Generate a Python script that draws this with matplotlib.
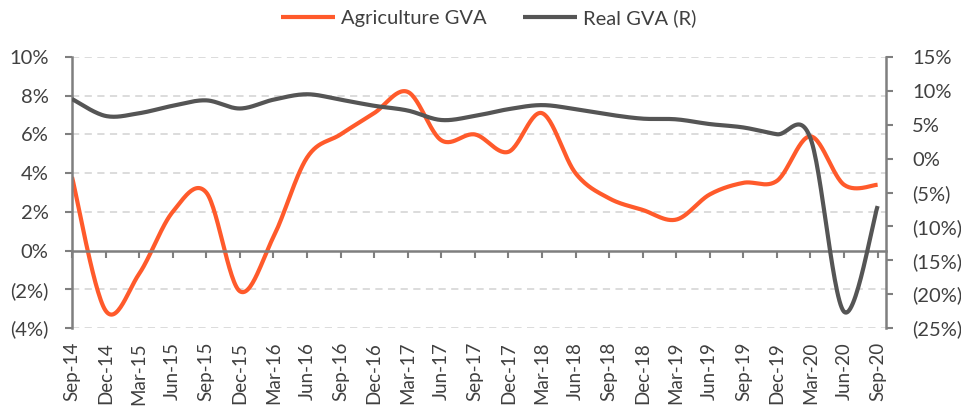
import numpy as np
import matplotlib
matplotlib.use("Agg")
import matplotlib.pyplot as plt
from matplotlib.ticker import FuncFormatter

plt.rcParams['font.family'] = ['Lato', 'DejaVu Sans']

# quarterly data, Sep-14 .. Sep-20
quarters = ['Sep-14', 'Dec-14', 'Mar-15', 'Jun-15', 'Sep-15', 'Dec-15', 'Mar-16',
            'Jun-16', 'Sep-16', 'Dec-16', 'Mar-17', 'Jun-17', 'Sep-17', 'Dec-17',
            'Mar-18', 'Jun-18', 'Sep-18', 'Dec-18', 'Mar-19', 'Jun-19', 'Sep-19',
            'Dec-19', 'Mar-20', 'Jun-20', 'Sep-20']
agri_gva = [3.8, -3.1, -1.2, 2.0, 3.0, -2.1, 0.7, 4.8, 6.0, 7.1, 8.2, 5.7, 6.0,
            5.1, 7.1, 4.0, 2.7, 2.1, 1.6, 2.9, 3.5, 3.6, 5.9, 3.4, 3.4]
real_gva = [8.8, 6.3, 6.7, 7.8, 8.6, 7.4, 8.7, 9.5, 8.7, 7.8, 7.1, 5.7, 6.3,
            7.3, 7.9, 7.3, 6.5, 5.9, 5.8, 5.1, 4.6, 3.6, 3.0, -22.6, -7.0]

ORANGE = '#FF5A2B'
GREY = '#555555'
AXIS = '#7F7F7F'
TEXT = '#404040'


def smooth(xs, ys, n=30):
    # excel style smoothed line (catmull-rom through the points)
    xs = np.asarray(xs, float)
    ys = np.asarray(ys, float)
    px = np.concatenate([[xs[0]], xs, [xs[-1]]])
    py = np.concatenate([[ys[0]], ys, [ys[-1]]])
    outx, outy = [], []
    t = np.linspace(0, 1, n)
    for i in range(1, len(px) - 2):
        p0, p1, p2, p3 = (np.array([px[j], py[j]]) for j in range(i - 1, i + 3))
        c1 = p1 + (p2 - p0) / 6
        c2 = p2 - (p3 - p1) / 6
        pts = ((1 - t) ** 3)[:, None] * p1 + (3 * (1 - t) ** 2 * t)[:, None] * c1 \
            + (3 * (1 - t) * t ** 2)[:, None] * c2 + (t ** 3)[:, None] * p2
        outx.extend(pts[:, 0])
        outy.extend(pts[:, 1])
    return outx, outy


def pct(v, pos):
    v = int(round(v))
    return f'({abs(v)}%)' if v < 0 else f'{v}%'


x = np.arange(len(quarters))

fig = plt.figure(figsize=(9.62, 4.12), dpi=100)
ax = fig.add_axes([72 / 962, 1 - 328 / 412, (886 - 72) / 962, (328 - 57) / 412])
ax2 = ax.twinx()

sx, sy = smooth(x, agri_gva)
l1, = ax.plot(sx, sy, color=ORANGE, lw=3, label='Agriculture GVA', solid_capstyle='butt')
sx, sy = smooth(x, real_gva)
l2, = ax2.plot(sx, sy, color=GREY, lw=3, label='Real GVA (R)', solid_capstyle='butt')

ax.set_xlim(0, 24.25)
ax.set_ylim(-4, 10)
ax.set_yticks(np.arange(-4, 11, 2))
ax2.set_ylim(-25, 15)
ax2.set_yticks(np.arange(-25, 16, 5))
ax.yaxis.set_major_formatter(FuncFormatter(pct))
ax2.yaxis.set_major_formatter(FuncFormatter(pct))

# dashed grid on the left scale
for g in [-4, -2, 2, 4, 6, 8, 10]:
    ax.axhline(g, color='#D9D9D9', lw=1.3, ls=(0, (4, 3)), zorder=0)

for s in ['top', 'right']:
    ax.spines[s].set_visible(False)
for s in ['top', 'left', 'bottom']:
    ax2.spines[s].set_visible(False)
ax.spines['bottom'].set_position(('data', 0))
for sp in [ax.spines['left'], ax.spines['bottom'], ax2.spines['right']]:
    sp.set_color(AXIS)
    sp.set_linewidth(1.8)

ax.set_xticks(x)
ax.tick_params(axis='x', direction='out', length=5, width=1.5, color=AXIS, labelbottom=False)
ax.tick_params(axis='y', direction='out', length=5, width=1.5, color=AXIS,
               labelsize=14.5, labelcolor=TEXT, pad=12)
ax2.tick_params(axis='y', direction='out', length=5, width=1.5, color=AXIS,
                labelsize=14.5, labelcolor=TEXT, pad=14)

sec = ax.secondary_xaxis('bottom')
sec.set_xticks(x, quarters)
sec.tick_params(length=0, rotation=90, labelsize=13.5, labelcolor=TEXT, pad=10)
sec.spines['bottom'].set_visible(False)

fig.legend(handles=[l1, l2], loc='center', bbox_to_anchor=(0.508, 0.955), ncol=2,
           frameon=False, fontsize=14.5, handlelength=2.7, columnspacing=1.8,
           handletextpad=0.3, labelcolor=TEXT)

fig.savefig('out.png', dpi=100)
